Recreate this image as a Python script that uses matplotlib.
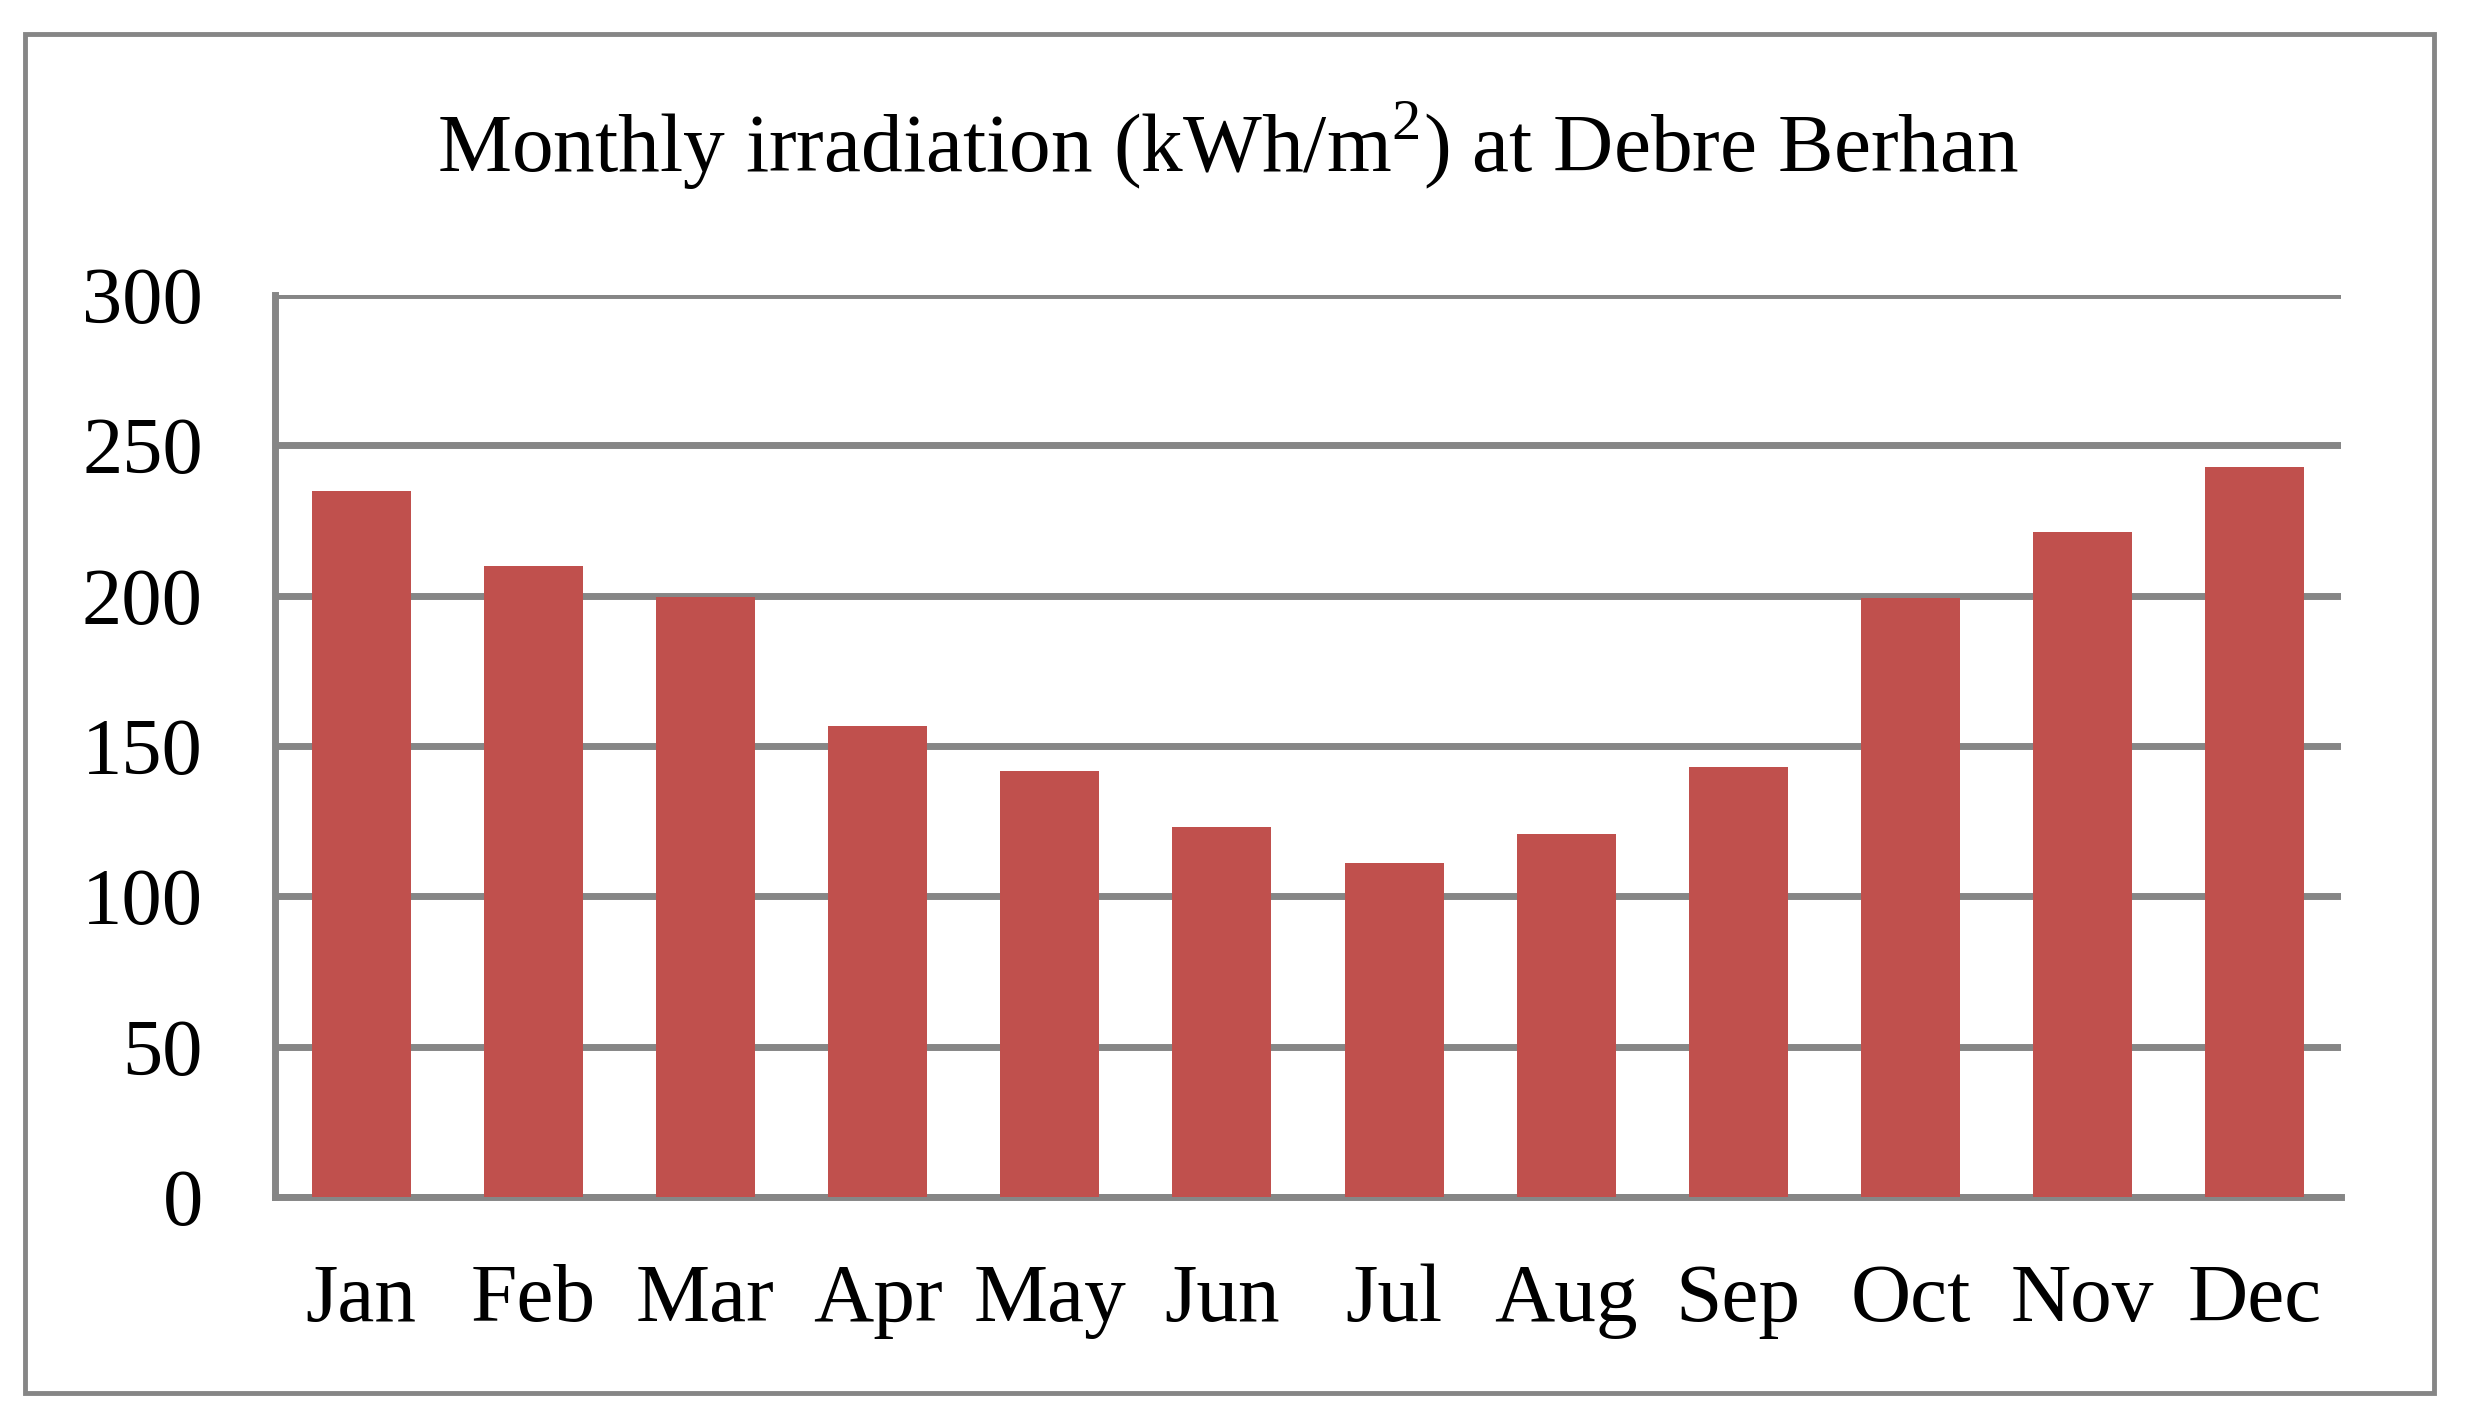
import numpy as np
import matplotlib
matplotlib.use('Agg')
import matplotlib.pyplot as plt
from matplotlib.patches import Rectangle

# data
months = ['Jan', 'Feb', 'Mar', 'Apr', 'May', 'Jun', 'Jul', 'Aug', 'Sep', 'Oct', 'Nov', 'Dec']
irradiation = [234.7, 209.9, 199.7, 156.7, 141.6, 123.0, 111.1, 120.6, 142.9, 199.1, 221.3, 242.8]
yticks = [0, 50, 100, 150, 200, 250, 300]

plt.rcParams['font.family'] = ['Liberation Serif', 'DejaVu Serif']
plt.rcParams['mathtext.fontset'] = 'custom'
plt.rcParams['mathtext.rm'] = 'Liberation Serif'

W, H, dpi = 2466, 1423, 100
fig = plt.figure(figsize=(W / dpi, H / dpi), dpi=dpi)
grey = '#868686'

# axes box in pixels: left 275, right 2341, top 295, bottom 1197
ax = fig.add_axes([275 / W, 1 - 1197 / H, (2341 - 275) / W, (1197 - 295) / H])
x = np.arange(len(months))
ax.bar(x, irradiation, width=0.575, color='#C0504D', zorder=3)
ax.set_xlim(-0.5, len(months) - 0.5)
ax.set_ylim(0, 300)
ax.set_yticks(yticks)
ax.set_xticks(x)
ax.set_xticklabels(months)
ax.grid(axis='y', color=grey, linewidth=5, zorder=1)
ax.tick_params(axis='both', length=0)
ax.tick_params(axis='y', pad=52, labelsize=58)
ax.tick_params(axis='x', pad=48, labelsize=60)
for s in ['top', 'right']:
    ax.spines[s].set_visible(False)
for s in ['left', 'bottom']:
    ax.spines[s].set_color(grey)
    ax.spines[s].set_linewidth(5)

fig.text(1228 / W, 1 - 172 / H, r'Monthly irradiation (kWh/m$^{\mathrm{2}}$) at Debre Berhan',
         ha='center', va='baseline', fontsize=60)

# outer chart border
fig.patches.append(Rectangle((25 / W, 1 - 1393 / H), (2434 - 25) / W, (1393 - 34) / H,
                             transform=fig.transFigure, fill=False, edgecolor=grey, linewidth=3.5))

fig.savefig('out.png', dpi=dpi)
